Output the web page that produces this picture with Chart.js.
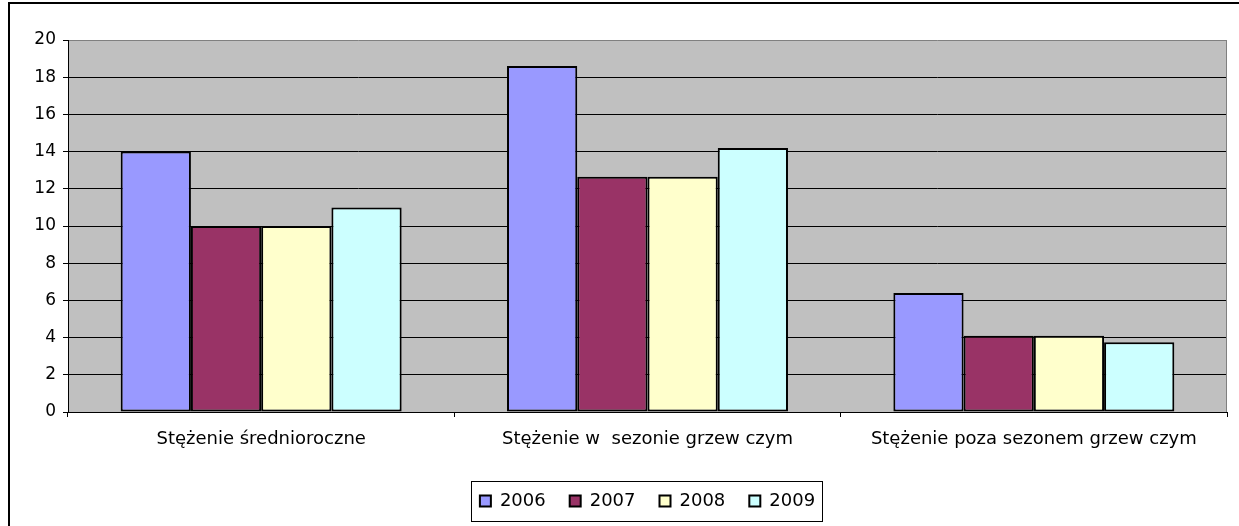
<!DOCTYPE html>
<html lang="pl">
<head>
<meta charset="utf-8">
<title>Stężenie</title>
<script src="https://cdn.jsdelivr.net/npm/chart.js@4/dist/chart.umd.min.js"></script>
<style>
  html, body { margin: 0; padding: 0; background: #fff; }
  #wrap { width: 1239px; height: 526px; position: relative; }
</style>
</head>
<body>
<div id="wrap"><canvas id="c" width="1239" height="526"></canvas></div>
<script>
// Categories (x axis)
const categories = [
  'Stężenie średnioroczne',
  'Stężenie w  sezonie grzew czym',
  'Stężenie poza sezonem grzew czym'
];

// Series per year
const years = ['2006', '2007', '2008', '2009'];
const values2006 = [14, 18.6, 6.4];
const values2007 = [10, 12.65, 4.1];
const values2008 = [10, 12.65, 4.1];
const values2009 = [11, 14.2, 3.75];

// Y axis range
const yMin = 0;
const yMax = 20;
const yStep = 2;

const seriesValues = [values2006, values2007, values2008, values2009];
const seriesColors = ['#9999FF', '#993366', '#FFFFCC', '#CCFFFF'];

const FONT = 'DejaVu Sans';

// Outer frame, plot background and plot border
const framePlugin = {
  id: 'frame',
  beforeDraw(chart) {
    const { ctx, chartArea: a } = chart;
    ctx.save();
    ctx.fillStyle = '#ffffff';
    ctx.fillRect(0, 0, chart.width, chart.height);
    ctx.fillStyle = '#000000';
    ctx.fillRect(8, 2, 2, chart.height);
    ctx.fillRect(8, 2, chart.width, 2);
    ctx.fillStyle = '#C0C0C0';
    ctx.fillRect(a.left, a.top, a.right - a.left, a.bottom - a.top);
    ctx.restore();
  },
  beforeDatasetsDraw(chart) {
    const { ctx, chartArea: a } = chart;
    ctx.save();
    ctx.strokeStyle = '#808080';
    ctx.lineWidth = 1;
    ctx.beginPath();
    ctx.moveTo(Math.round(a.right) - 0.5, a.top);
    ctx.lineTo(Math.round(a.right) - 0.5, a.bottom);
    ctx.stroke();
    ctx.restore();
  },
  afterDraw(chart) {
    // box around the legend
    const lg = chart.legend;
    if (!lg || !lg.legendHitBoxes || !lg.legendHitBoxes.length) return;
    const hb = lg.legendHitBoxes;
    const first = hb[0];
    const last = hb[hb.length - 1];
    const ctx = chart.ctx;
    const x0 = Math.round(first.left - 9) + 0.5;
    const x1 = Math.round(last.left + last.width + 7) + 0.5;
    const y0 = Math.round(first.top - 11) + 0.5;
    const y1 = Math.round(first.top + first.height + 11) + 0.5;
    ctx.save();
    ctx.strokeStyle = '#000000';
    ctx.lineWidth = 1;
    ctx.strokeRect(x0, y0, x1 - x0, y1 - y0);
    ctx.restore();
  }
};

const datasets = years.map((y, i) => ({
  label: y,
  data: seriesValues[i],
  backgroundColor: seriesColors[i],
  borderColor: '#000000',
  borderWidth: 2,
  borderSkipped: false,
  categoryPercentage: 4 / 5.5,
  barPercentage: 1
}));

new Chart(document.getElementById('c'), {
  type: 'bar',
  data: { labels: categories, datasets },
  plugins: [framePlugin],
  options: {
    responsive: false,
    devicePixelRatio: 1,
    animation: false,
    events: [],
    layout: { padding: { top: 40, right: 12, bottom: 6, left: 0 } },
    plugins: {
      tooltip: { enabled: false },
      legend: {
        position: 'bottom',
        fullSize: false,
        labels: {
          color: '#000',
          font: { family: FONT, size: 18 },
          boxWidth: 11,
          boxHeight: 11,
          padding: 24
        }
      }
    },
    scales: {
      x: {
        afterFit(scale) { scale.height = 56; },
        grid: {
          offset: true,
          drawOnChartArea: false,
          drawTicks: true,
          tickLength: 5,
          color: '#000',
          tickColor: '#000'
        },
        border: { display: true, color: '#000', width: 1 },
        ticks: {
          color: '#000',
          font: { family: FONT, size: 18 },
          padding: 12,
          maxRotation: 0,
          autoSkip: false
        }
      },
      y: {
        min: yMin,
        max: yMax,
        afterFit(scale) { scale.width = 68; },
        grid: {
          drawTicks: true,
          tickLength: 5,
          color: (c) => (c.tick && c.tick.value === yMax ? '#808080' : '#000'),
          tickColor: '#000'
        },
        border: { display: true, color: '#000', width: 1 },
        ticks: {
          stepSize: yStep,
          color: '#000',
          font: { family: FONT, size: 17 },
          padding: 7
        }
      }
    }
  }
});
</script>
</body>
</html>
